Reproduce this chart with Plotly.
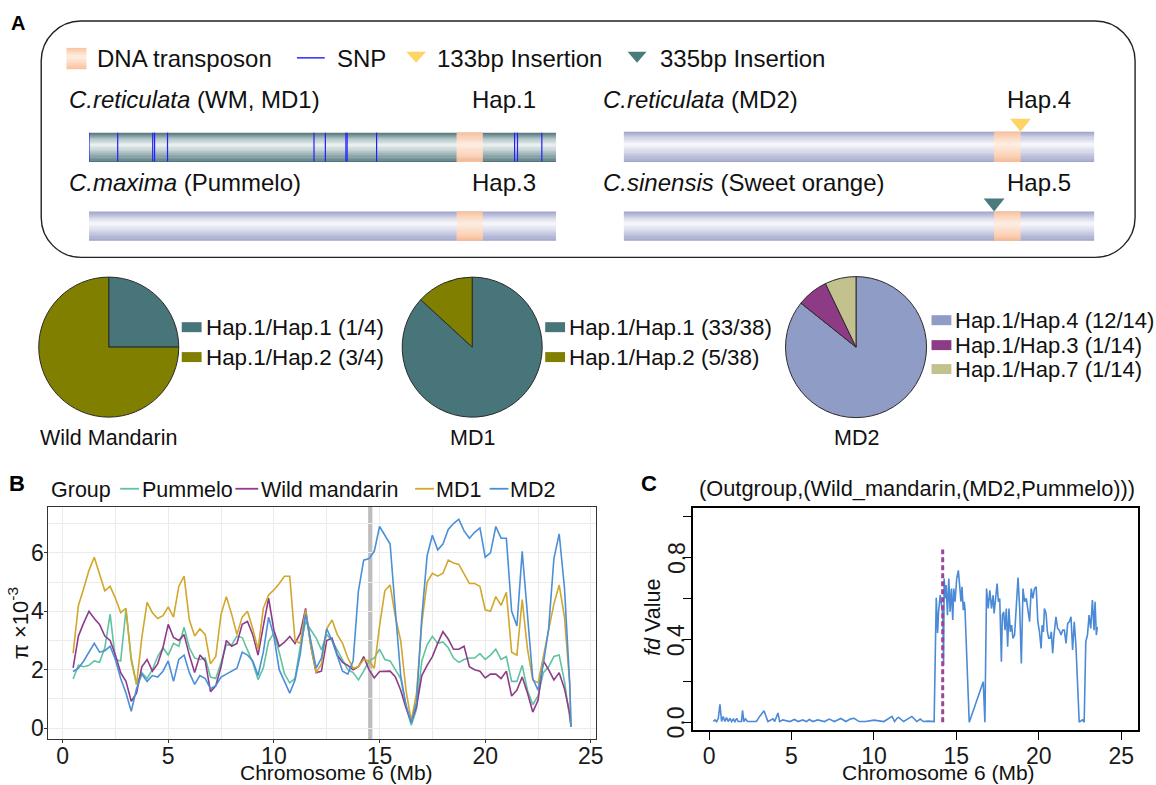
import plotly.graph_objects as go

# ---------------- DATA ----------------
# Panel A: haplotype structure (gene coordinates normalised to 0-1)
snp_pos_hap1 = [0.0, 0.0615, 0.1364, 0.1404, 0.1681, 0.4817, 0.5060, 0.5500,
                0.5526, 0.6157, 0.9111, 0.9173, 0.9694]
te_start, te_end = 0.787, 0.843
insert_names = ["133bp Insertion", "335bp Insertion"]
insert_pos = [0.843, 0.787]
insert_colors = ["#fdd466", "#4a7b7c"]

# Pie charts
pie_groups = ["Wild Mandarin", "MD1", "MD2"]
wm_labels = ["Hap.1/Hap.1 (1/4)", "Hap.1/Hap.2 (3/4)"]
wm_counts = [1, 3]
md1_labels = ["Hap.1/Hap.1 (33/38)", "Hap.1/Hap.2 (5/38)"]
md1_counts = [33, 5]
md2_labels = ["Hap.1/Hap.4 (12/14)", "Hap.1/Hap.3 (1/14)", "Hap.1/Hap.7 (1/14)"]
md2_counts = [12, 1, 1]
wm_colors = ["#47757a", "#807f00"]
md1_colors = ["#47757a", "#807f00"]
md2_colors = ["#8f9cc6", "#8e3b86", "#c3c28f"]

# Panel B: nucleotide diversity (pi x 10^-3) along chromosome 6 (Mb)
pi_pos = [0.5, 0.75, 1.0, 1.25, 1.5, 1.75, 2.0, 2.25, 2.5, 2.75,
          3.0, 3.25, 3.5, 3.75, 4.0, 4.25, 4.5, 4.75, 5.0, 5.25,
          5.5, 5.75, 6.0, 6.25, 6.5, 6.75, 7.0, 7.25, 7.5, 7.75,
          8.0, 8.25, 8.5, 8.75, 9.0, 9.25, 9.5, 9.75, 10.0, 10.25,
          10.5, 10.75, 11.0, 11.25, 11.5, 11.75, 12.0, 12.25, 12.5, 12.75,
          13.0, 13.25, 13.5, 13.75, 14.0, 14.25, 14.5, 14.75, 15.0, 15.25,
          15.5, 15.75, 16.0, 16.25, 16.5, 16.75, 17.0, 17.25, 17.5, 17.75,
          18.0, 18.25, 18.5, 18.75, 19.0, 19.25, 19.5, 19.75, 20.0, 20.25,
          20.5, 20.75, 21.0, 21.25, 21.5, 21.75, 22.0, 22.25, 22.5, 22.75,
          23.0, 23.25, 23.5, 23.75, 24.0, 24.06]
pi_pummelo = [1.68, 2.15, 2.1, 2.15, 2.3, 2.25, 2.75, 3.9, 2.35, 2.3,
              4.05, 2.4, 1.5, 1.9, 1.7, 2.0, 2.45, 2.75, 2.5, 2.9,
              2.8, 3.45, 2.75, 2.4, 2.35, 2.4, 1.75, 1.7, 2.25, 2.85,
              2.85, 3.15, 3.1, 2.7, 2.25, 1.66, 2.06, 2.97, 3.25, 2.6,
              1.86, 1.55, 1.7, 2.8, 3.65, 3.36, 3.08, 2.68, 3.2, 3.0,
              2.65, 2.3, 2.0, 1.9, 1.65, 1.95, 2.3, 2.4, 2.7, 2.35,
              2.3, 2.0, 1.7, 0.75, 0.1, 0.65, 2.3, 2.85, 3.14, 2.9,
              2.95, 2.75, 2.4, 2.25, 2.35, 2.4, 2.4, 2.55, 2.35, 2.5,
              2.7, 2.35, 2.45, 1.6, 1.6, 2.15, 1.3, 0.8, 1.1, 1.9,
              2.1, 2.45, 2.5, 1.6, 0.45, 0.05]
pi_wild = [2.06, 3.15, 3.6, 4.0, 3.75, 3.55, 3.15, 3.0, 2.5, 1.9,
           1.6, 0.92, 1.2, 2.1, 2.35, 1.95, 2.2, 2.75, 3.55, 3.1,
           3.0, 3.2, 2.5, 1.9, 2.5, 2.3, 1.25, 1.45, 2.1, 3.0,
           2.8, 2.9, 3.55, 3.65, 3.2, 2.5, 3.5, 4.45, 3.35, 2.8,
           2.94, 3.14, 2.9, 3.25, 4.1, 2.8, 1.9, 1.95, 3.0, 3.08,
           2.5, 2.25, 2.15, 2.0, 2.1, 2.45, 2.0, 1.72, 1.94, 1.95,
           1.95, 1.75, 1.3, 0.7, 0.2, 0.75, 1.8, 2.15, 2.45, 2.9,
           3.3, 3.05, 2.7, 2.7, 2.8, 2.1, 2.0, 1.95, 1.72, 1.85,
           1.85, 1.7, 1.95, 1.1, 1.3, 1.75, 1.2, 0.55, 0.95, 2.3,
           2.0, 1.65, 1.9, 1.35, 0.5, 0.05]
pi_md1 = [2.57, 4.2, 4.78, 5.4, 5.85, 5.3, 4.7, 4.85, 4.45, 3.95,
          4.1, 2.3, 1.5, 3.1, 4.3, 3.95, 3.75, 3.85, 4.15, 3.8,
          4.85, 5.2, 3.7, 3.15, 3.4, 3.2, 2.2, 2.45, 3.9, 4.5,
          3.9, 3.2, 3.8, 4.0, 3.4, 2.7, 4.1, 4.56, 4.73, 4.94,
          5.2, 5.2, 3.0, 2.9, 4.05, 2.8, 1.9, 2.2, 3.4, 3.7,
          3.2, 2.9, 2.4, 2.05, 2.1, 2.35, 2.3, 2.05, 3.5, 4.7,
          4.9, 3.8, 3.0, 1.3, 0.25, 1.2, 3.6, 5.0, 5.3, 5.2,
          5.3, 5.75, 5.65, 5.6, 5.25, 4.95, 4.95, 4.85, 4.05, 4.0,
          4.5, 4.2, 4.65, 2.6, 2.5, 4.4, 2.7, 1.65, 1.55, 2.45,
          3.25, 4.25, 4.9, 3.8, 1.5, 0.05]
pi_md2 = [1.94, 2.05, 2.3, 2.6, 2.9, 2.6, 2.65, 2.8, 2.35, 1.7,
          1.2, 0.58, 1.35, 1.85, 1.6, 1.8, 1.75, 1.95, 2.3, 1.6,
          2.35, 2.5, 1.9, 1.5, 1.8, 1.7, 1.35, 1.45, 1.75, 1.85,
          1.95, 2.05, 2.6, 2.5, 2.3, 1.8, 2.6, 3.8, 3.15, 2.0,
          1.6, 1.2, 1.65, 2.55, 3.9, 3.0, 2.05, 2.4, 3.4, 3.0,
          2.45, 1.95, 1.85, 2.3, 4.7, 5.75, 5.8, 6.05, 6.9, 6.6,
          6.3, 4.0, 1.8, 0.8, 0.18, 0.9, 3.8, 5.9, 6.6, 6.1,
          6.3, 6.8, 7.0, 7.15, 6.75, 6.5, 6.7, 6.85, 5.85, 6.0,
          6.9, 6.5, 6.5, 4.0, 3.5, 6.05, 3.9, 1.7, 1.3, 2.2,
          3.4, 5.8, 6.65, 4.8, 1.5, 0.05]
pi_groups = ["Pummelo", "Wild mandarin", "MD1", "MD2"]
pi_colors = ["#5fc3a0", "#8f3b8a", "#d2a72c", "#4b8fd8"]
marked_region = 14.56  # grey band
b_xticks = [0, 5, 10, 15, 20, 25]
b_yticks = [0, 2, 4, 6]

# Panel C: fd values
fd_pos = [0.26, 0.36, 0.46, 0.56, 0.66, 0.76, 0.86, 0.96, 1.06, 1.16,
          1.27, 1.37, 1.47, 1.57, 1.67, 1.77, 1.97, 2.03, 2.11, 2.21,
          2.33, 2.47, 2.87, 3.07, 3.33, 3.57, 3.88, 3.98, 4.18, 4.28,
          4.48, 4.9, 5.18, 5.4, 5.68, 5.9, 6.08, 6.3, 6.59, 7.0,
          7.29, 7.6, 7.99, 8.3, 8.59, 8.8, 9.1, 9.5, 10.0, 10.6,
          11.1, 11.25, 11.4, 11.5, 11.8, 12.3, 12.6, 12.81, 13.0, 13.3,
          13.51, 13.65, 13.78, 13.86, 13.92, 14.02, 14.10, 14.18, 14.22, 14.26,
          14.32, 14.38, 14.46, 14.54, 14.62, 14.70, 14.78, 14.84, 14.92, 15.02,
          15.12, 15.22, 15.28, 15.34, 15.42, 15.48, 15.52, 15.78, 16.63, 16.73,
          16.83, 16.93, 17.03, 17.13, 17.23, 17.29, 17.39, 17.47, 17.55, 17.63,
          17.73, 17.79, 17.87, 17.95, 18.03, 18.11, 18.19, 18.27, 18.35, 18.43,
          18.53, 18.63, 18.74, 18.84, 18.94, 19.04, 19.14, 19.24, 19.34, 19.44,
          19.54, 19.64, 19.74, 19.84, 19.94, 20.04, 20.14, 20.2, 20.28, 20.34,
          20.44, 20.52, 20.6, 20.68, 20.76, 20.84, 20.92, 21.04, 21.14, 21.24,
          21.35, 21.45, 21.55, 21.65, 21.75, 21.85, 21.95, 22.05, 22.15, 22.25,
          22.45, 22.65, 22.75, 22.85, 22.95, 23.05, 23.15, 23.25, 23.35, 23.41,
          23.49, 23.55]
fd_val = [0.003, 0.011, 0.003, 0.019, 0.087, 0.003, 0.028, 0.003, 0.023, 0.003,
          0.019, 0.003, 0.015, 0.003, 0.019, 0.003, 0.003, 0.057, 0.003, 0.016,
          0.003, 0.003, 0.003, 0.028, 0.056, 0.003, 0.016, 0.003, 0.045, 0.003,
          0.011, 0.003, 0.013, 0.003, 0.011, 0.003, 0.013, 0.003, 0.011, 0.003,
          0.015, 0.003, 0.018, 0.003, 0.016, 0.019, 0.003, 0.003, 0.01, 0.003,
          0.028, 0.003, 0.019, 0.023, 0.003, 0.028, 0.003, 0.015, 0.003, 0.005,
          0.003, 0.003, 0.605, 0.434, 0.537, 0.618, 0.57, 0.521, 0.278, 0.699,
          0.602, 0.667, 0.521, 0.699, 0.537, 0.65, 0.497, 0.65, 0.586, 0.699,
          0.739, 0.65, 0.586, 0.659, 0.545, 0.586, 0.553, 0.0, 0.197, 0.0,
          0.65, 0.553, 0.642, 0.553, 0.618, 0.529, 0.602, 0.675, 0.586, 0.602,
          0.294, 0.521, 0.537, 0.448, 0.553, 0.367, 0.553, 0.44, 0.472, 0.408,
          0.424, 0.545, 0.704, 0.553, 0.286, 0.65, 0.586, 0.602, 0.553, 0.489,
          0.65, 0.602, 0.65, 0.659, 0.489, 0.44, 0.359, 0.472, 0.44, 0.553,
          0.529, 0.44, 0.408, 0.408, 0.44, 0.335, 0.424, 0.513, 0.456, 0.448,
          0.424, 0.448, 0.448, 0.383, 0.481, 0.489, 0.513, 0.351, 0.489, 0.375,
          0.0, 0.011, 0.0, 0.392, 0.424, 0.521, 0.456, 0.594, 0.448, 0.586,
          0.424, 0.464]
fd_marker_pos = 14.17
fd_marker_top = 0.84
c_xticks = [0, 5, 10, 15, 20, 25]
c_yticks = [0.0, 0.2, 0.4, 0.6, 0.8, 1.0]
c_yticklabels = ["0.0", "", "0.4", "", "0.8", ""]

# ---------------- LAYOUT HELPERS ----------------
W, H = 1156, 785
FONT = "Liberation Sans, Arial, sans-serif"


def X(px):
    return px / W


def Y(py):
    return 1 - py / H


def mix(c1, c2, w):
    return "rgb(%d,%d,%d)" % tuple(round(a + (b - a) * w) for a, b in zip(c1, c2))


shapes = []
annotations = []


def text(x, y, s, size, xanchor="left", yanchor="middle", angle=0, color="#111"):
    annotations.append(dict(x=X(x), y=Y(y), xref="paper", yref="paper", text=s,
                            showarrow=False, xanchor=xanchor, yanchor=yanchor,
                            textangle=angle, borderpad=0,
                            font=dict(family=FONT, size=size, color=color)))


def grad_rect(xref, x0, x1, top, bot, edge, light, n=26, peak=0.42, gamma=0.8):
    for i in range(n):
        t = (i + 0.5) / n
        d = (t - peak) / peak if t < peak else (t - peak) / (1 - peak)
        w = (1 - abs(d)) ** gamma
        ya = top + (bot - top) * i / n
        yb = top + (bot - top) * (i + 1) / n + 0.4
        shapes.append(dict(type="rect", xref=xref, yref="paper", x0=x0, x1=x1,
                           y0=Y(yb), y1=Y(ya), fillcolor=mix(edge, light, w),
                           line=dict(width=0), layer="above"))


TEAL_E, TEAL_L = (70, 110, 116), (238, 243, 243)
LAV_E, LAV_L = (152, 157, 199), (248, 248, 252)
TE_E, TE_L = (250, 188, 148), (254, 238, 226)

# ---------------- FIGURE ----------------
fig = go.Figure()

# Panel B lines
for name, vals, col in zip(pi_groups, [pi_pummelo, pi_wild, pi_md1, pi_md2], pi_colors):
    fig.add_trace(go.Scatter(x=pi_pos, y=vals, mode="lines", name=name,
                             line=dict(color=col, width=1.6), xaxis="x", yaxis="y",
                             showlegend=False, hoverinfo="skip"))

# Panel C line + marker
fig.add_trace(go.Scatter(x=fd_pos, y=fd_val, mode="lines", line=dict(color="#4a8ad6", width=1.6),
                         xaxis="x2", yaxis="y2", showlegend=False, hoverinfo="skip"))
fig.add_trace(go.Scatter(x=[fd_marker_pos, fd_marker_pos], y=[0, fd_marker_top], mode="lines",
                         line=dict(color="#9b4596", width=3, dash="5px,3px"),
                         xaxis="x2", yaxis="y2", showlegend=False, hoverinfo="skip"))

# placeholder traces so that the panel A gene axes exist
fig.add_trace(go.Scatter(x=[0.5], y=[0.5], mode="markers", marker=dict(opacity=0),
                         xaxis="x3", yaxis="y3", showlegend=False, hoverinfo="skip"))
fig.add_trace(go.Scatter(x=[0.5], y=[0.5], mode="markers", marker=dict(opacity=0),
                         xaxis="x4", yaxis="y3", showlegend=False, hoverinfo="skip"))

# Pies
pie_specs = [(wm_labels, wm_counts, wm_colors, 39, 180),
             (md1_labels, md1_counts, md1_colors, 405, 546),
             (md2_labels, md2_counts, md2_colors, 791, 933)]
for labels, counts, cols, x0, x1 in pie_specs:
    fig.add_trace(go.Pie(labels=labels, values=counts, sort=False, direction="clockwise",
                         rotation=0, textinfo="none", hoverinfo="skip", showlegend=False,
                         marker=dict(colors=cols, line=dict(color="#2a2a2a", width=1)),
                         domain=dict(x=[X(x0), X(x1)], y=[Y(419), Y(277)])))

# ---------------- PANEL A drawing ----------------
x0, x1, y0, y1, r = 41.5, 1143, 21, 258, 40
k = 0.55 * r
pts = [("M", [(x0 + r, y0)]), ("L", [(x1 - r, y0)]),
       ("C", [(x1 - r + k, y0), (x1, y0 + r - k), (x1, y0 + r)]),
       ("L", [(x1, y1 - r)]),
       ("C", [(x1, y1 - r + k), (x1 - r + k, y1), (x1 - r, y1)]),
       ("L", [(x0 + r, y1)]),
       ("C", [(x0 + r - k, y1), (x0, y1 - r + k), (x0, y1 - r)]),
       ("L", [(x0, y0 + r)]),
       ("C", [(x0, y0 + r - k), (x0 + r - k, y0), (x0 + r, y0)])]
path = " ".join(cmd + " " + " ".join("%.5f,%.5f" % (X(a), Y(b)) for a, b in p) for cmd, p in pts) + " Z"
shapes.append(dict(type="path", xref="paper", yref="paper", path=path,
                   line=dict(color="#222", width=1.4)))

# legend of panel A
grad_rect("paper", X(67), X(87), 48, 69, TE_E, TE_L, n=14)
text(97, 59, "DNA transposon", 24)
shapes.append(dict(type="line", xref="paper", yref="paper", x0=X(299), x1=X(327), y0=Y(58), y1=Y(58),
                   line=dict(color="#2b2bff", width=1.5)))
text(338, 59, "SNP", 24)
for (lx0, lx1), col, name, tx in zip([(409, 429), (632, 651)], insert_colors, insert_names, [439, 664]):
    shapes.append(dict(type="path", xref="paper", yref="paper",
                       path="M %f,%f L %f,%f L %f,%f Z" % (X(lx0), Y(52), X(lx1), Y(52), X((lx0 + lx1) / 2), Y(63)),
                       fillcolor=col, line=dict(width=0)))
    text(tx, 59, name, 24)

# gene rows
rows = [("x3", 133, 162, TEAL_E, TEAL_L, True),
        ("x4", 132, 162, LAV_E, LAV_L, False),
        ("x3", 212, 241, LAV_E, LAV_L, False),
        ("x4", 212, 241, LAV_E, LAV_L, False)]
for xr, top, bot, e, l, has_snp in rows:
    grad_rect(xr, 0, 1, top, bot, e, l)
    grad_rect(xr, te_start, te_end, top, bot, TE_E, TE_L)
    if has_snp:
        for p in snp_pos_hap1:
            shapes.append(dict(type="line", xref=xr, yref="paper", x0=p, x1=p, y0=Y(bot), y1=Y(top),
                               line=dict(color="#2020ff", width=1.2)))

# insertion triangles (on Hap.4 and Hap.5 genes)
hw = 10.5 / 474
for p, col, (tt, tb) in zip(insert_pos, insert_colors, [(119, 132), (199, 212)]):
    shapes.append(dict(type="path", xref="x4", yref="paper",
                       path="M %f,%f L %f,%f L %f,%f Z" % (p - hw, Y(tt), p + hw, Y(tt), p, Y(tb)),
                       fillcolor=col, line=dict(width=0)))

text(68.5, 100, "<i>C.reticulata</i> (WM, MD1)", 24)
text(474, 100, "Hap.1", 24)
text(606, 100, "<i>C.reticulata</i> (MD2)", 24)
text(1013, 100, "Hap.4", 24)
text(68.5, 183, "<i>C.maxima</i> (Pummelo)", 24)
text(474, 183, "Hap.3", 24)
text(606, 183, "<i>C.sinensis</i> (Sweet orange)", 24)
text(1013, 183, "Hap.5", 24)

# pie legends and names
pie_leg = [(wm_labels, wm_colors, 183, [328, 358], 22.4),
           (md1_labels, md1_colors, 549, [328, 358], 22.4),
           (md2_labels, md2_colors, 938, [321, 346, 370], 22.0)]
for labels, cols, sx, ys, fs in pie_leg:
    for lab, col, yy in zip(labels, cols, ys):
        shapes.append(dict(type="rect", xref="paper", yref="paper", x0=X(sx), x1=X(sx + 20),
                           y0=Y(yy + 5), y1=Y(yy - 5), fillcolor=col, line=dict(width=0)))
        text(sx + 23, yy, lab, fs)
for name, cx in zip(pie_groups, [109.5, 475.5, 862]):
    text(cx, 439, name, 21.5, xanchor="center")

# panel letters
text(18, 23, "<b>A</b>", 20, xanchor="center", color="#000")
text(17, 485, "<b>B</b>", 22, xanchor="center", color="#000")
text(654, 485, "<b>C</b>", 22, xanchor="center", color="#000")

# Panel B legend (manual)
text(50, 491, "Group", 21.5)
for (lx0, lx1), tx, name, col in zip([(121, 140), (237, 260), (418, 437), (493, 512)],
                                     [142, 262, 438, 513], pi_groups, pi_colors):
    shapes.append(dict(type="line", xref="paper", yref="paper", x0=X(lx0), x1=X(lx1), y0=Y(490), y1=Y(490),
                       line=dict(color=col, width=1.8)))
    text(tx, 491, name, 21.5)

# grey band in B
shapes.append(dict(type="rect", xref="x", yref="y domain", x0=marked_region - 0.1, x1=marked_region + 0.1,
                   y0=0, y1=1, fillcolor="#bdbdbd", line=dict(width=0), layer="below"))

# C y tick labels (rotated, R base style) placed at their axis values
for v, lab in zip(c_yticks, c_yticklabels):
    if lab:
        annotations.append(dict(x=X(681), y=v, xref="paper", yref="y2", text=lab, showarrow=False,
                                xanchor="center", yanchor="middle", textangle=-90, borderpad=0,
                                font=dict(family=FONT, size=23, color="#1a1a1a")))

# axis titles
text(19, 625, "π ×10<sup>-3</sup>", 22, xanchor="center", angle=-90)
text(339, 774, "Chromosome 6 (Mb)", 21, xanchor="center")
text(945, 774, "Chromosome 6 (Mb)", 21, xanchor="center")
text(658, 619, "<i>fd</i> Value", 21.5, xanchor="center", angle=-90)
text(923, 490, "(Outgroup,(Wild_mandarin,(MD2,Pummelo)))", 21.8, xanchor="center")

tickfont = dict(family=FONT, size=23, color="#1a1a1a")
fig.update_layout(
    width=W, height=H, margin=dict(l=0, r=0, t=0, b=0),
    paper_bgcolor="white", plot_bgcolor="rgba(0,0,0,0)",
    font=dict(family=FONT, color="#111"),
    xaxis=dict(domain=[X(48), X(600)], range=[-0.705, 25.235], anchor="y",
               tickvals=b_xticks, showgrid=True, gridcolor="#ebebeb", gridwidth=1.4,
               minor=dict(tickvals=[2.5, 7.5, 12.5, 17.5, 22.5], showgrid=True,
                          gridcolor="#ebebeb", gridwidth=0.8, ticks=""),
               showline=True, mirror=True, linecolor="#333", linewidth=1.3,
               ticks="outside", ticklen=3, tickcolor="#333", tickfont=tickfont, zeroline=False,
               ticklabelstandoff=-7),
    yaxis=dict(domain=[Y(741), Y(508)], range=[-0.375, 7.577], anchor="x",
               tickvals=b_yticks, showgrid=True, gridcolor="#ebebeb", gridwidth=1.4,
               minor=dict(tickvals=[1, 3, 5, 7], showgrid=True, gridcolor="#ebebeb", gridwidth=0.8, ticks=""),
               showline=True, mirror=True, linecolor="#333", linewidth=1.3,
               ticks="outside", ticklen=3, tickcolor="#333", tickfont=tickfont, zeroline=False,
               ticklabelstandoff=-5),
    xaxis2=dict(domain=[X(698), X(1146)], range=[-0.964, 26.02], anchor="y2",
                tickvals=c_xticks, showgrid=False, showline=True, mirror=True,
                linecolor="#000", linewidth=1.5, ticks="outside", ticklen=8, tickwidth=1.3,
                tickcolor="#000", tickfont=tickfont, zeroline=False, ticklabelstandoff=-3),
    yaxis2=dict(domain=[Y(732), Y(509)], range=[-0.0388, 1.0437], anchor="x2",
                tickvals=c_yticks, showticklabels=False, showgrid=False,
                showline=True, mirror=True, linecolor="#000", linewidth=1.5, ticks="outside",
                ticklen=8, tickwidth=1.3, tickcolor="#000", zeroline=False),
    xaxis3=dict(domain=[X(89.6), X(560)], range=[0, 1], anchor="y3", visible=False, fixedrange=True),
    xaxis4=dict(domain=[X(628), X(1102)], range=[0, 1], anchor="y3", visible=False, fixedrange=True),
    yaxis3=dict(domain=[Y(245), Y(115)], range=[0, 1], anchor="x3", visible=False, fixedrange=True),
    shapes=shapes, annotations=annotations,
)

fig.write_html("out.html", config={"displayModeBar": False},
               post_script="document.body.style.margin='0';document.body.style.overflow='hidden';")
